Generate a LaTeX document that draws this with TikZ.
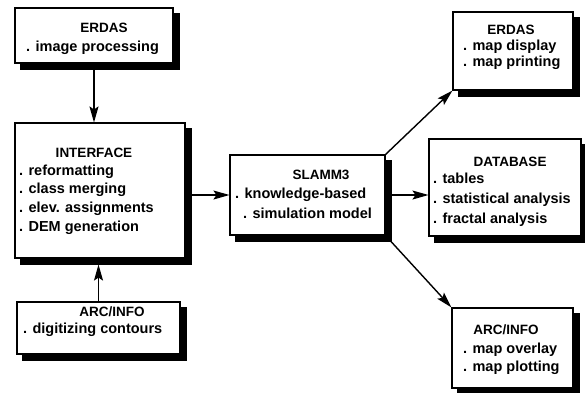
\documentclass[tikz,border=0pt]{standalone}
\usepackage{fontspec}
\setmainfont{Liberation Sans}
\usetikzlibrary{backgrounds,arrows.meta}
\begin{document}
\begin{tikzpicture}[x=1pt,y=-1pt,
  box/.style={draw=black, line width=1.1pt, fill=white, inner sep=0pt},
  shadowfill/.style={fill=black},
  ttl/.style={font=\bfseries\fontsize{13.5}{15}\selectfont, text height=9.5pt, text depth=0pt, inner sep=0pt, anchor=center},
  itm/.style={font=\bfseries\fontsize{14.5}{16}\selectfont, text height=10pt, text depth=3pt, inner sep=0pt, anchor=west},
  arr/.style={line width=1.4pt, -{Stealth[length=16pt,width=9pt,inset=3pt]}}]
\useasboundingbox (0,0) rectangle (585,392);

% boxes
\node[box, minimum width=158pt, minimum height=55pt] (erdasA) at (94,35.5) {};
\node[box, minimum width=170pt, minimum height=135pt] (iface) at (100,190.5) {};
\node[box, minimum width=163pt, minimum height=52pt] (arcA) at (98.5,328) {};
\node[box, minimum width=155pt, minimum height=80pt] (slamm) at (307.5,195) {};
\node[box, minimum width=120pt, minimum height=78pt] (erdasB) at (513,51) {};
\node[box, minimum width=152pt, minimum height=97pt] (db) at (505,187.5) {};
\node[box, minimum width=121pt, minimum height=80pt] (arcB) at (512.5,348) {};

% shadows
\begin{scope}[on background layer]
\foreach \b in {erdasA,iface,arcA,slamm,erdasB,db,arcB}
  \fill[shadowfill] ([shift={(6,6)}]\b.north west) rectangle ([shift={(6,6)}]\b.south east);
\end{scope}

% texts
\node[ttl] (erdasAt) at (104,28) {ERDAS};
\node[itm] (erdasA1) at (26,48) {. image processing};

\node[ttl] (ifacet) at (94,153) {INTERFACE};
\node[itm] (iface1) at (19,172) {. reformatting};
\node[itm] (iface2) at (19,190) {. class merging};
\node[itm] (iface3) at (19,209) {. elev. assignments};
\node[itm] (iface4) at (19,228) {. DEM generation};

\node[ttl] (arcAt) at (112,312) {ARC/INFO};
\node[itm] (arcA1) at (23,330) {. digitizing contours};

\node[ttl] (slammt) at (321,175) {SLAMM3};
\node[itm] (slamm1) at (235,195) {. knowledge-based};
\node[itm] (slamm2) at (243,215) {. simulation model};

\node[ttl] (erdasBt) at (511,30) {ERDAS};
\node[itm] (erdasB1) at (463,47) {. map display};
\node[itm] (erdasB2) at (463,63) {. map printing};

\node[ttl] (dbt) at (510,162) {DATABASE};
\node[itm] (db1) at (433,180) {. tables};
\node[itm] (db2) at (433,200) {. statistical analysis};
\node[itm] (db3) at (433,220) {. fractal analysis};

\node[ttl] (arcBt) at (506,330) {ARC/INFO};
\node[itm] (arcB1) at (463,350) {. map overlay};
\node[itm] (arcB2) at (463,368) {. map plotting};

% connectors
\draw[arr, shorten <=6pt] (erdasA.south) -- (erdasA.south |- iface.north);
\draw[arr, shorten >=6pt] (arcA.north) -- (arcA.north |- iface.south);
\draw[arr, shorten <=6pt] (slamm.west -| iface.east) -- (slamm.west);
\draw[arr, shorten <=6pt] (slamm.east) -- (slamm.east -| db.west);
\draw[arr] (slamm.north east) -- (erdasB.south west);
\draw[arr] (slamm.south east) -- (arcB.north west);
\end{tikzpicture}
\end{document}
